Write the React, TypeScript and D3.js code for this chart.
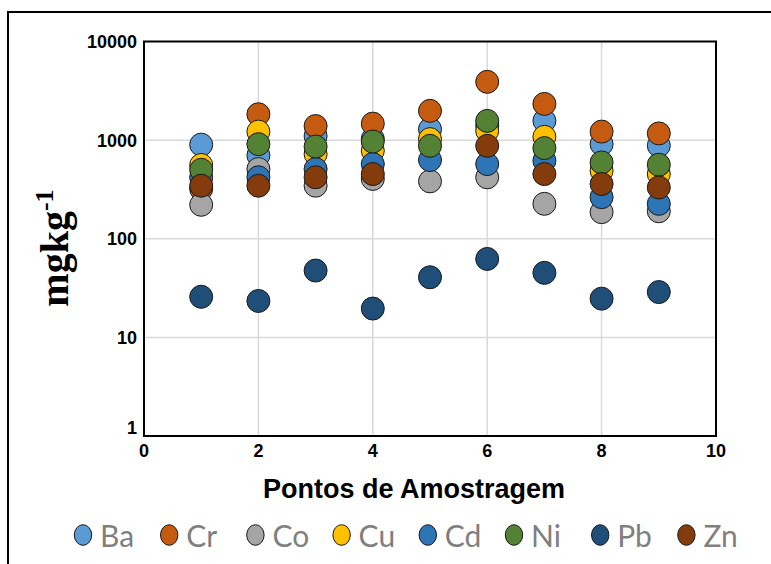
import React from "react";
import * as d3 from "d3";

const points = [1, 2, 3, 4, 5, 6, 7, 8, 9];
const seriesNames = ["Ba", "Cr", "Co", "Cu", "Cd", "Ni", "Pb", "Zn"];
const seriesColors = ["#5B9BD5", "#C55A11", "#A5A5A5", "#FFC000", "#2E75B6", "#548235", "#1F4E79", "#843C0C"];

const Ba = [900, 700, 1100, 1030, 1290, 1400, 1570, 910, 880];
const Cr = [320, 1830, 1390, 1470, 1980, 3900, 2330, 1220, 1170];
const Co = [221, 509, 345, 404, 382, 420, 226, 186, 190];
const Cu = [560, 1220, 722, 780, 1024, 1240, 1080, 490, 453];
const Cd = [420, 420, 509, 572, 628, 572, 618, 264, 226];
const Ni = [500, 910, 861, 968, 876, 1567, 830, 594, 563];
const Pb = [25.8, 23.4, 47.6, 19.6, 40.7, 62.4, 45.1, 24.7, 28.8];
const Zn = [345, 345, 420, 453, null, 876, 453, 359, 331];

const seriesValues = [Ba, Cr, Co, Cu, Cd, Ni, Pb, Zn];

const yTickValues = [1, 10, 100, 1000, 10000];
const yGridValues = [10, 100, 1000];
const xTickValues = [0, 2, 4, 6, 8, 10];
const xGridValues = [2, 4, 6, 8];

const W = 771;
const H = 564;
const plot = { left: 144, right: 716, top: 41.5, bottom: 436 };

export default function App() {
  const x = d3.scaleLinear().domain([0, 10]).range([plot.left, plot.right]);
  const y = d3.scaleLog().domain([1, 10000]).range([plot.bottom, plot.top]);
  const tickFont = "'Liberation Sans', Arial, sans-serif";

  const legendStart = 83;
  const legendPitch = 86.2;

  return (
    <svg
      width={W}
      height={H}
      viewBox={`0 0 ${W} ${H}`}
      style={{ position: "absolute", left: 0, top: 0, background: "#fff" }}
    >
      <rect x={0} y={0} width={W} height={H} fill="#fff" />
      {/* outer frame */}
      <rect x={8} y={12} width={800} height={600} fill="none" stroke="#000" strokeWidth={2} />

      {/* grid */}
      {yGridValues.map((v) => (
        <line key={"gy" + v} x1={plot.left} x2={plot.right} y1={y(v)} y2={y(v)} stroke="#d9d9d9" strokeWidth={1.5} />
      ))}
      {xGridValues.map((v) => (
        <line key={"gx" + v} x1={x(v)} x2={x(v)} y1={plot.top} y2={plot.bottom} stroke="#d9d9d9" strokeWidth={1.5} />
      ))}

      {/* points */}
      {seriesValues.map((vals, si) => (
        <g key={seriesNames[si]}>
          {vals.map((v, i) =>
            v == null ? null : (
              <circle
                key={i}
                cx={x(points[i])}
                cy={y(v)}
                r={11.5}
                fill={seriesColors[si]}
                stroke="#1a1a1a"
                strokeWidth={1}
              />
            )
          )}
        </g>
      ))}

      {/* plot border */}
      <rect
        x={plot.left}
        y={plot.top}
        width={plot.right - plot.left}
        height={plot.bottom - plot.top}
        fill="none"
        stroke="#000"
        strokeWidth={2}
      />

      {/* y tick labels */}
      {yTickValues.map((v) => (
        <text
          key={"ty" + v}
          x={137}
          y={y(v) + (v === 1 ? -8 : 0)}
          dy="0.36em"
          textAnchor="end"
          fontFamily={tickFont}
          fontWeight="bold"
          fontSize={18}
          fill="#000"
        >
          {v}
        </text>
      ))}

      {/* x tick labels */}
      {xTickValues.map((v) => (
        <text
          key={"tx" + v}
          x={x(v)}
          y={456.5}
          textAnchor="middle"
          fontFamily={tickFont}
          fontWeight="bold"
          fontSize={18}
          fill="#000"
        >
          {v}
        </text>
      ))}

      {/* x title */}
      <text
        x={414}
        y={497.5}
        textAnchor="middle"
        fontFamily={tickFont}
        fontWeight="bold"
        fontSize={27}
        fill="#000"
      >
        Pontos de Amostragem
      </text>

      {/* y title */}
      <text
        transform="translate(68,248) rotate(-90)"
        textAnchor="middle"
        fontFamily="'Liberation Serif', 'Times New Roman', serif"
        fontWeight="bold"
        fontSize={40}
        fill="#000"
      >
        mgkg
        <tspan fontSize={26} dy={-15}>
          -1
        </tspan>
      </text>

      {/* legend */}
      {seriesNames.map((name, i) => {
        const cx = legendStart + i * legendPitch;
        return (
          <g key={"lg" + name}>
            <ellipse cx={cx} cy={535} rx={8.7} ry={10.3} fill={seriesColors[i]} stroke="#1a1a1a" strokeWidth={1} />
            <text
              x={cx + 17}
              y={547}
              fontFamily="Lato, 'Open Sans', sans-serif"
              fontSize={30}
              fill="#7f7f7f"
            >
              {name}
            </text>
          </g>
        );
      })}
    </svg>
  );
}
